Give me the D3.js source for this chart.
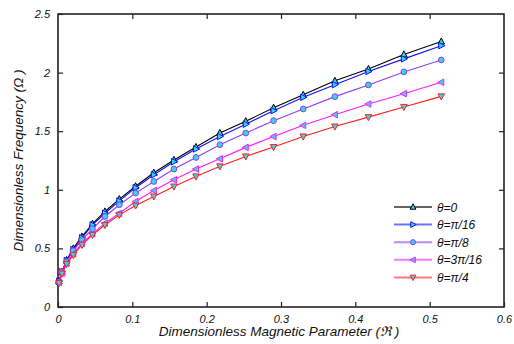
<!DOCTYPE html>
<html><head><meta charset="utf-8">
<script src="https://cdn.jsdelivr.net/npm/d3@7"></script>
<style>
body{margin:0;background:#fff;}
text{font-family:"Liberation Sans",Arial,sans-serif;font-style:italic;}
</style></head>
<body><svg id="c" width="514" height="344"></svg>
<script>
const xVals = [0.0013,0.0052,0.0116,0.0206,0.0322,0.0464,0.0632,0.0825,0.1044,0.1289,0.1560,0.1856,0.2178,0.2526,0.2900,0.3299,0.3725,0.4176,0.4653,0.5156];
const theta0   = [0.22,0.30,0.40,0.50,0.60,0.71,0.815,0.92,1.03,1.145,1.255,1.365,1.485,1.585,1.70,1.81,1.93,2.03,2.155,2.265];
const thetaP16 = [0.22,0.30,0.395,0.49,0.59,0.70,0.80,0.905,1.018,1.128,1.24,1.348,1.455,1.56,1.675,1.789,1.897,2.01,2.117,2.23];
const thetaP8  = [0.215,0.30,0.387,0.48,0.573,0.667,0.772,0.872,0.972,1.071,1.177,1.276,1.385,1.484,1.59,1.69,1.795,1.895,2.006,2.108];
const theta3P16= [0.21,0.288,0.373,0.453,0.544,0.624,0.715,0.80,0.90,0.994,1.085,1.177,1.265,1.362,1.455,1.55,1.641,1.732,1.82,1.917];
const thetaP4  = [0.205,0.285,0.367,0.444,0.53,0.615,0.70,0.786,0.866,0.943,1.028,1.114,1.2,1.285,1.365,1.455,1.54,1.62,1.707,1.797];
const seriesNames = ["\u03B8=0","\u03B8=\u03C0/16","\u03B8=\u03C0/8","\u03B8=3\u03C0/16","\u03B8=\u03C0/4"];
const xTicks = [0,0.1,0.2,0.3,0.4,0.5,0.6];
const yTicks = [0,0.5,1,1.5,2,2.5];

const series = [
  {name:seriesNames[0], y:theta0,    color:"#000000", sym:"up"},
  {name:seriesNames[1], y:thetaP16,  color:"#1010ff", sym:"right"},
  {name:seriesNames[2], y:thetaP8,   color:"#8f3cf0", sym:"circle"},
  {name:seriesNames[3], y:theta3P16, color:"#ff1aff", sym:"left"},
  {name:seriesNames[4], y:thetaP4,   color:"#ff2020", sym:"down"}
];

const svg = d3.select("#c");
const L=58, R=504, T=14, B=307;
const x = d3.scaleLinear().domain([0,0.6]).range([L,R]);
const y = d3.scaleLinear().domain([0,2.5]).range([B,T]);

function tri(dir, s){
  // returns path for triangle of size s centered at 0,0
  const a=s, b=s*0.9;
  if(dir==="up") return `M0,${-a}L${b},${a*0.7}L${-b},${a*0.7}Z`;
  if(dir==="down") return `M0,${a}L${b},${-a*0.7}L${-b},${-a*0.7}Z`;
  if(dir==="right") return `M${a},0L${-a*0.7},${b}L${-a*0.7},${-b}Z`;
  if(dir==="left") return `M${-a},0L${a*0.7},${b}L${a*0.7},${-b}Z`;
}
function drawMarker(g, sym, color, size){
  if(sym==="circle"){
    g.append("circle").attr("r",size*0.8).attr("fill","#33d6e0").attr("stroke",color).attr("stroke-width",1);
  } else {
    g.append("path").attr("d",tri(sym,size)).attr("fill","#33d6e0").attr("stroke",color).attr("stroke-width",1);
  }
}

// frame
svg.append("rect").attr("x",L).attr("y",T).attr("width",R-L).attr("height",B-T)
  .attr("fill","none").attr("stroke","#222").attr("stroke-width",1.6);

// axes
const xAxis = d3.axisBottom(x).tickValues(xTicks).tickSize(-5).tickPadding(8).tickFormat(d=>d3.format("")(d));
const gx = svg.append("g").attr("transform",`translate(0,${B})`).call(xAxis);
const xTop = d3.axisTop(x).tickValues(xTicks.slice(1,-1)).tickSize(-5).tickFormat("");
const gxt = svg.append("g").attr("transform",`translate(0,${T})`).call(xTop);
const yAxis = d3.axisLeft(y).tickValues(yTicks).tickSize(-5).tickPadding(8).tickFormat(d=>d3.format("")(d));
const gy = svg.append("g").attr("transform",`translate(${L},0)`).call(yAxis);
const yRight = d3.axisRight(y).tickValues(yTicks.slice(1,-1)).tickSize(-5).tickFormat("");
const gyr = svg.append("g").attr("transform",`translate(${R},0)`).call(yRight);
[gx,gxt,gy,gyr].forEach(g=>{
  g.select(".domain").remove();
  g.selectAll(".tick line").attr("stroke","#222").attr("stroke-width",1.2);
  g.selectAll("text").attr("font-size",11).attr("fill","#111")
   .style("font-family","'Liberation Sans',Arial,sans-serif").style("font-style","italic");
});

// series
const line = d3.line().x((d,i)=>x(xVals[i])).y(d=>y(d));
series.forEach(s=>{
  svg.append("path").datum(s.y).attr("d",line).attr("fill","none").attr("stroke",s.color).attr("stroke-width",1.1);
  s.y.forEach((v,i)=>{
    const g = svg.append("g").attr("transform",`translate(${x(xVals[i])},${y(v)})`);
    drawMarker(g, s.sym, s.color, 3.6);
  });
});

// legend
const lgX1=394, lgX2=432, lgMk=413, lgTx=437, lgY0=207, lgDy=17.6;
series.forEach((s,i)=>{
  const yy = lgY0 + i*lgDy;
  svg.append("line").attr("x1",lgX1).attr("x2",lgX2).attr("y1",yy).attr("y2",yy)
    .attr("stroke",s.color).attr("stroke-width",2).attr("stroke-opacity",0.6);
  const g = svg.append("g").attr("transform",`translate(${lgMk},${yy})`);
  drawMarker(g, s.sym, s.color, 3.2);
  svg.append("text").attr("x",lgTx).attr("y",yy+4.5).attr("font-size",12).attr("fill","#111").text(s.name);
});

// axis titles
svg.append("text").attr("x",279).attr("y",336).attr("text-anchor","middle").attr("font-size",13.5).attr("fill","#111")
  .text("Dimensionless Magnetic Parameter (\u211C )");
svg.append("text").attr("transform",`translate(23,${(T+B)/2}) rotate(-90)`).attr("text-anchor","middle")
  .attr("font-size",13.5).attr("fill","#111").text("Dimensionless Frequency (\u03A9 )");
</script></body></html>
